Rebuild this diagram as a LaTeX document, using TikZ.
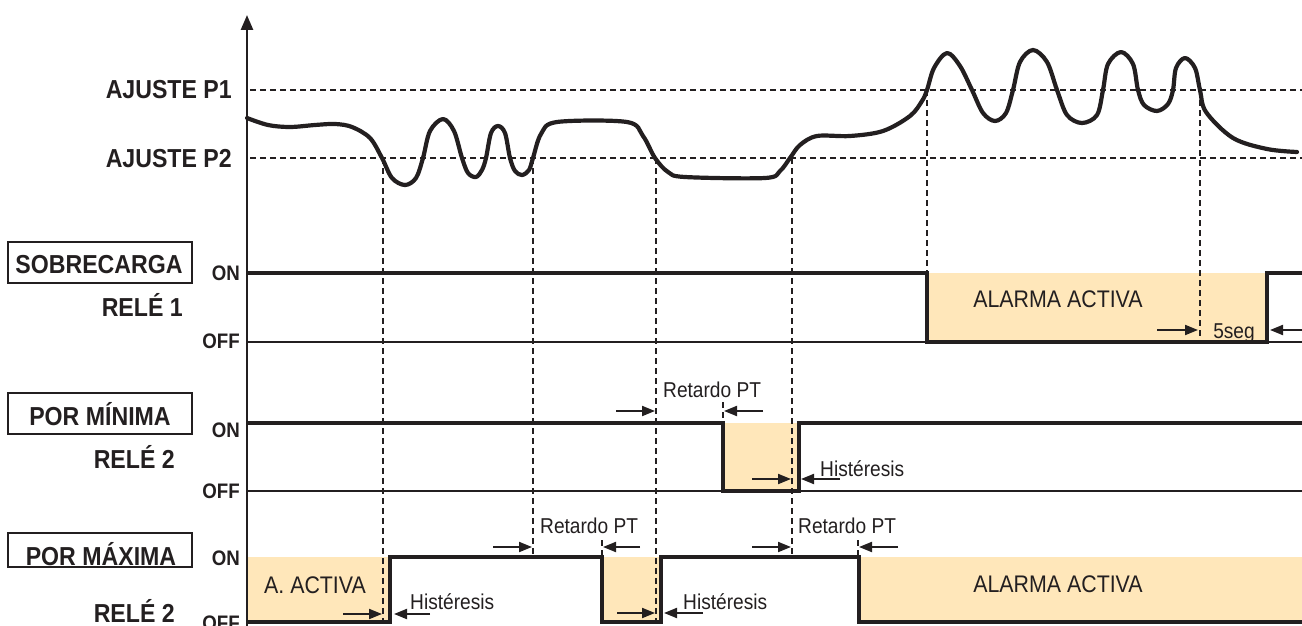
\documentclass[tikz,border=0pt]{standalone}
\usepackage{fontspec}
\setmainfont{Liberation Sans}[FakeStretch=0.89]
\usetikzlibrary{arrows.meta}
\definecolor{ink}{HTML}{231F20}
\definecolor{alarm}{RGB}{255,231,186}
\begin{document}
\begin{tikzpicture}[x=1pt,y=-1pt,
  lbl/.style={font=\fontsize{26}{26}\selectfont\bfseries, text=ink, inner sep=0pt},
  lvl/.style={font=\fontsize{21}{21}\selectfont\bfseries, text=ink, inner sep=0pt, anchor=base east},
  note/.style={font=\fontsize{21.5}{21.5}\selectfont, text=ink, inner sep=0pt, anchor=base west},
  big/.style={font=\fontsize{24}{24}\selectfont, text=ink, inner sep=0pt, anchor=base},
  guide/.style={ink, line width=2pt, dash pattern=on 6pt off 4pt},
  sig/.style={ink, line width=4pt, line join=miter},
  rail/.style={ink, line width=2pt},
  tagbox/.style={draw=ink, line width=2pt},
  harrow/.style={ink, line width=2pt, -{Triangle[length=13pt,width=10pt]}},
  curve/.style={ink, line width=4.2pt, line cap=round, line join=round},
  fillarea/.style={fill=alarm, draw=none}
]
\useasboundingbox (0,0) rectangle (1302,626);

% ---------- alarm areas ----------
\fill[fillarea] (927,273) rectangle (1267,342);
\fill[fillarea] (723,423) rectangle (799,491);
\fill[fillarea] (247,557) rectangle (390,622);
\fill[fillarea] (602,557) rectangle (661,622);
\fill[fillarea] (859,557) rectangle (1302,622);

% ---------- set points ----------
\draw[guide] (250,90) -- (1302,90);
\draw[guide] (250,158) -- (1302,158);

% ---------- vertical guides ----------
\draw[guide] (383,158) -- (383,626);
\draw[guide] (533,158) -- (533,555);
\draw[guide] (656,158) -- (656,626);
\draw[guide] (792,158) -- (792,555);
\draw[guide] (927,90) -- (927,342);
\draw[guide] (1200,90) -- (1200,342);
\draw[guide] (723,402) -- (723,423);
\draw[guide] (602,540) -- (602,557);
\draw[guide] (858,540) -- (858,557);

% ---------- axis ----------
\draw[ink, line width=2.5pt, -{Triangle[length=15pt,width=12pt]}] (247,626) -- (247,15);

% ---------- measured signal ----------
\draw[curve] plot[smooth, tension=0.55] coordinates {
  (247,118) (268,125) (290,127) (315,125) (335,124) (352,127) (370,138)
  (382,158) (392,178) (405,185) (416,178) (423,158) (430,131) (443,119)
  (454,131) (462,158) (468,173) (476,177) (482,170) (486,158) (491,133)
  (498,126) (505,133) (510,158) (515,171) (522,175) (529,170) (533,158)
  (541,134) (557,122) (627,122) (643,136) (655,158) (668,172) (685,177)
  (765,178) (780,171) (790,158) (800,145) (817,136) (850,136) (883,131)
  (910,116) (922,101) (927,90) (934,68) (947,53) (960,66) (972,90)
  (983,113) (995,121) (1006,113) (1013,90) (1020,62) (1033,50) (1047,62)
  (1057,90) (1067,115) (1082,123) (1097,115) (1103,90) (1108,64) (1121,52)
  (1133,64) (1138,90) (1144,105) (1157,111) (1168,104) (1173,90) (1176,68)
  (1185,58) (1195,68) (1200,90) (1206,112) (1233,138) (1267,149) (1297,152)
};

% ---------- relay 1 (overload) ----------
\draw[rail] (247,342) -- (1302,342);
\draw[sig] (247,273) -- (927,273) -- (927,342) -- (1267,342) -- (1267,273) -- (1302,273);

% ---------- relay 2 (minimum) ----------
\draw[rail] (247,491) -- (1302,491);
\draw[sig] (247,423) -- (723,423) -- (723,491) -- (799,491) -- (799,423) -- (1302,423);

% ---------- relay 2 (maximum) ----------
\draw[sig] (247,622) -- (390,622) -- (390,557) -- (602,557) -- (602,622)
  -- (661,622) -- (661,557) -- (859,557) -- (859,622) -- (1302,622);

% ---------- left labels ----------
\node[lbl, anchor=base east] (p1) at (232,99) {AJUSTE P1};
\node[lbl, anchor=base east] (p2) at (232,167) {AJUSTE P2};

\draw[tagbox] (8,242) rectangle (192,283);
\node[lbl, anchor=base] (sob) at (99,273) {SOBRECARGA};
\node[lbl, anchor=base east] (r1) at (183,316) {RELÉ 1};
\node[lvl] (on1) at (240,280) {ON};
\node[lvl] (off1) at (240,348) {OFF};

\draw[tagbox] (8,393) rectangle (192,434);
\node[lbl, anchor=base] (pmin) at (100,425) {POR MÍNIMA};
\node[lbl, anchor=base east] (r2a) at (175,468) {RELÉ 2};
\node[lvl] (on2) at (240,437) {ON};
\node[lvl] (off2) at (240,498) {OFF};

\draw[tagbox] (8,533) rectangle (192,567);
\node[lbl, anchor=base] (pmax) at (101,565) {POR MÁXIMA};
\node[lbl, anchor=base east] (r2b) at (175,622) {RELÉ 2};
\node[lvl] (on3) at (240,565) {ON};
\node[lvl] (off3) at (240,630) {OFF};

% ---------- annotations: relay 1 ----------
\node[big] (al1) at (1058,307) {ALARMA ACTIVA};
\node[note, anchor=base] (seg) at (1234,338) {5seg};
\draw[harrow] (1157,330) -- (1198,330);
\draw[harrow] (1302,330) -- (1270,330);

% ---------- annotations: relay 2 minimum ----------
\node[note] (rt1) at (663,397) {Retardo PT};
\draw[harrow] (616,411) -- (655,411);
\draw[harrow] (763,411) -- (724,411);
\node[note] (hy1) at (820,476) {Histéresis};
\draw[harrow] (752,479) -- (791,479);
\draw[harrow] (840,479) -- (801,479);

% ---------- annotations: relay 2 maximum ----------
\node[big] (aa) at (315,593) {A. ACTIVA};
\node[big] (al2) at (1058,592) {ALARMA ACTIVA};
\node[note] (rt2) at (540,533) {Retardo PT};
\draw[harrow] (493,547) -- (532,547);
\draw[harrow] (640,547) -- (603,547);
\node[note] (rt3) at (798,533) {Retardo PT};
\draw[harrow] (752,547) -- (791,547);
\draw[harrow] (898,547) -- (859,547);
\node[note] (hy2) at (410,609) {Histéresis};
\draw[harrow] (343,614) -- (382,614);
\draw[harrow] (430,614) -- (394,614);
\node[note] (hy3) at (683,609) {Histéresis};
\draw[harrow] (617,613) -- (655,613);
\draw[harrow] (703,613) -- (664,613);
\end{tikzpicture}
\end{document}
